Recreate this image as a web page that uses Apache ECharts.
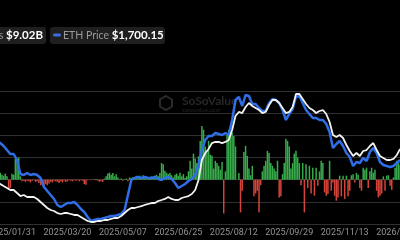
<!DOCTYPE html>
<html>
<head>
<meta charset="utf-8">
<script src="https://cdn.jsdelivr.net/npm/echarts@6/dist/echarts.min.js"></script>
<style>
  html, body { margin: 0; padding: 0; background: #000; }
  #chart { width: 400px; height: 240px; }
</style>
</head>
<body>
<div id="chart"></div>
<script>
// trading days shown on the axis: 2025/01/14 .. 2026/01/02
const firstDay = '2025-01-14';
const lastDay = '2026-01-02';
const holidays = ['2025-01-20', '2025-02-17', '2025-04-18', '2025-05-26', '2025-06-19',
  '2025-07-04', '2025-09-01', '2025-11-27', '2025-12-25', '2026-01-01'];

// daily net inflow, $M
const netInflow = [
  80, 120, 60, -40, 100, 126, 90, 70, 110, 60,
  -180, -150, 108, 90, 380, 340, 400, 60, -30, -20,
  -40, -20, -30, -50, -20, -10, -40, -30, -60, -100,
  -90, -110, -80, -100, -70, -40, -50, -20, -30, -40,
  -60, -30, -50, -20, -40, -30, -10, -20, -30, -10,
  -20, -10, -30, -10, -20, -80, -90, -10, 0, -10,
  0, -10, 10, -20, -36, -30, -40, 20, 60, 110,
  126, 90, 120, 60, 100, 40, -10, 20, -20, 10,
  20, -30, 40, 30, 50, 20, 70, 60, 72, 40,
  80, 50, 30, 20, 40, 60, 30, 72, 90, 60,
  120, 300, 280, 160, 126, 100, 120, 80, 40, 90,
  110, 70, 126, 60, 100, 30, 60, 150, 340, 200,
  470, 380, 300, 420, 700, 970, 900, 600, 520, 700,
  450, 430, 200, 340, 300, 250, 180, 320, -610, 150,
  800, 900, 970, 850, 790, 600, 0, 120, -590, -200,
  500, 610, 430, 200, 80, 250, -300, -250, -200, -590,
  -100, 150, 250, 340, 520, 480, 300, 250, 200, 150,
  340, -320, -300, 100, 300, 740, 700, 600, 200, 300,
  470, 520, 400, 300, -100, 300, -590, 280, -150, 250,
  -250, 216, -290, 216, -110, 150, 340, 300, -230, -290,
  -260, 340, -200, -50, -290, -380, -320, 72, -300, 72,
  -350, 72, -300, -200, 80, 100, -50, 120, 90, -150,
  -200, 216, 180, 216, -150, 150, 216, 126, 180, -200,
  -320, -290, -250, 60, -200, 72, 80, -110, -180, 40,
  216, 340, 300, 260
];

// ETH price, one value every 2nd trading day (starting at day 1)
const ethPrice = [
  3664, 3610, 3583, 3501, 3393, 3285, 3285, 3122, 2744, 2716,
  2771, 2716, 2744, 2716, 2635, 2392, 2283, 2175, 2067, 1904,
  1850, 1904, 1958, 1958, 1986, 1904, 1796, 1715, 1579, 1471,
  1498, 1525, 1525, 1552, 1579, 1607, 1607, 1634, 1661, 1769,
  2175, 2581, 2635, 2662, 2635, 2662, 2635, 2635, 2662, 2608,
  2581, 2635, 2662, 2608, 2500, 2365, 2419, 2473, 2554, 2608,
  2716, 2987, 3393, 3664, 3772, 3772, 3853, 3826, 3799, 3853,
  3799, 4205, 4747, 4828, 4584, 4882, 4855, 4638, 4638, 4530,
  4449, 4449, 4665, 4774, 4747, 4665, 4476, 4205, 4368, 4503,
  4828, 4855, 4665, 4476, 4368, 4259, 4259, 4205, 4205, 4097,
  3880, 3447, 3556, 3637, 3501, 3312, 3204, 2960, 3068, 3041,
  3177, 3095, 3339, 3447, 3312, 3068, 2987, 2960, 2933, 2960,
  3041, 3122
];

// total net assets, $B, same sampling as ethPrice
const netAssets = [
  13.19, 12.81, 12.42, 12.03, 11.65, 11.26, 11.26, 10.68, 10.10, 10.30,
  9.91, 9.91, 9.91, 9.53, 8.95, 8.37, 7.79, 7.40, 7.21, 6.82,
  6.63, 6.82, 6.82, 6.63, 6.44, 6.44, 6.05, 5.67, 5.28, 5.09,
  5.09, 5.28, 5.28, 5.47, 5.47, 5.67, 5.86, 5.86, 6.24, 6.82,
  7.40, 7.79, 7.79, 7.98, 8.17, 8.37, 8.56, 8.75, 8.75, 9.14,
  9.33, 9.53, 9.91, 9.53, 9.33, 9.33, 9.72, 9.91, 10.10, 10.49,
  11.26, 13.19, 17.05, 18.40, 19.18, 20.33, 20.53, 20.53, 20.33, 20.53,
  20.91, 22.84, 25.54, 26.32, 26.12, 27.28, 28.05, 27.47, 27.09, 26.70,
  26.12, 26.32, 27.67, 28.63, 28.63, 28.05, 27.09, 26.12, 26.32, 27.28,
  29.79, 29.79, 28.83, 27.86, 27.09, 26.70, 26.12, 26.51, 26.70, 25.93,
  24.39, 21.88, 21.49, 21.88, 21.30, 19.95, 18.79, 17.82, 18.40, 17.82,
  18.79, 18.98, 19.75, 20.33, 18.98, 17.82, 17.44, 17.05, 17.05, 17.25,
  18.02, 19.18
];

const legendAssets = '$9.02B';
const legendPrice = '$1,700.15';

function tradingDays(from, to) {
  let out = [];
  let d = new Date(from + 'T00:00:00Z');
  let end = new Date(to + 'T00:00:00Z');
  while (d <= end) {
    let iso = d.toISOString().slice(0, 10);
    let wd = d.getUTCDay();
    if (wd !== 0 && wd !== 6 && holidays.indexOf(iso) < 0) {
      out.push(iso.replace(/-/g, '/'));
    }
    d.setUTCDate(d.getUTCDate() + 1);
  }
  return out;
}

const dates = tradingDays(firstDay, lastDay);

let myChart = echarts.init(document.getElementById('chart'));

myChart.setOption({
  backgroundColor: '#000',
  animation: false,
  grid: {
    left: -9,
    right: -1,
    top: 91,
    bottom: 16,
    containLabel: false,
    outerBoundsMode: 'none'
  },
  xAxis: {
    type: 'category',
    data: dates,
    boundaryGap: true,
    axisLine: { show: false },
    axisTick: { show: false },
    splitLine: { show: false },
    axisLabel: {
      color: '#939393',
      fontSize: 9,
      fontFamily: 'Roboto',
      margin: 4,
      interval: (index) => (index - 12) % 33 === 0
    }
  },
  yAxis: [{
    type: 'value',
    min: -800,
    max: 1600,
    interval: 400,
    axisLabel: { show: false },
    axisLine: { show: false },
    axisTick: { show: false },
    splitLine: { lineStyle: { color: '#303030', width: 1 } }
  }, {
    type: 'value',
    min: 1390,
    max: 4990,
    show: false,
    splitLine: { show: false }
  }, {
    type: 'value',
    min: 4.7,
    max: 30.37,
    show: false,
    splitLine: { show: false }
  }],
  series: [{
    name: 'Daily Total Net Inflow',
    type: 'bar',
    data: netInflow,
    yAxisIndex: 0,
    barCategoryGap: '10%',
    itemStyle: {
      color: p => p.value >= 0 ? '#38ab4b' : '#d4443a'
    }
  }, {
    name: 'ETH Price',
    type: 'line',
    yAxisIndex: 1,
    data: ethPrice.map((v, k) => [2 * k + 1, v]),
    showSymbol: false,
    z: 3,
    lineStyle: { color: '#2f6ee6', width: 2.5 }
  }, {
    name: 'Total Net Assets',
    type: 'line',
    yAxisIndex: 2,
    data: netAssets.map((v, k) => [2 * k + 1, v]),
    showSymbol: false,
    z: 4,
    lineStyle: { color: '#f2f2f2', width: 1.8 }
  }],
  graphic: [
    // watermark
    {
      type: 'polygon',
      shape: { points: [[166, 96], [172, 99.5], [172, 106.5], [166, 110], [160, 106.5], [160, 99.5]] },
      style: { fill: 'none', stroke: '#2a2a2a', lineWidth: 2 }
    },
    {
      type: 'text', x: 182, y: 101,
      style: { text: 'SoSoValue', fill: '#272727', font: 'bold 12px Lato', verticalAlign: 'middle' }
    },
    {
      type: 'text', x: 182, y: 110,
      style: { text: 'sosovalue.com', fill: '#222', font: '6px Lato', verticalAlign: 'middle' }
    },
    // legend boxes
    {
      type: 'rect',
      shape: { x: -80, y: 27, width: 126, height: 17, r: 3 },
      style: { fill: '#1f1f1f' }
    },
    {
      type: 'text', x: 43, y: 35.5,
      style: {
        text: '{g|Total Net Assets }{w|' + legendAssets + '}',
        align: 'right',
        verticalAlign: 'middle',
        rich: {
          g: { fill: '#9a9a9a', fontSize: 10.5, fontFamily: 'Lato' },
          w: { fill: '#ffffff', fontSize: 11.5, fontWeight: 'bold', fontFamily: 'Lato' }
        }
      }
    },
    {
      type: 'rect',
      shape: { x: 50, y: 27, width: 115, height: 17, r: 3 },
      style: { fill: '#1f1f1f' }
    },
    {
      type: 'rect',
      shape: { x: 53, y: 33.5, width: 8, height: 3, r: 1.5 },
      style: { fill: '#3a6fe0' }
    },
    {
      type: 'text', x: 63, y: 35.5,
      style: {
        text: '{g|ETH Price }{w|' + legendPrice + '}',
        verticalAlign: 'middle',
        rich: {
          g: { fill: '#9a9a9a', fontSize: 10.5, fontFamily: 'Lato' },
          w: { fill: '#ffffff', fontSize: 11.5, fontWeight: 'bold', fontFamily: 'Lato' }
        }
      }
    }
  ]
});
</script>
</body>
</html>
